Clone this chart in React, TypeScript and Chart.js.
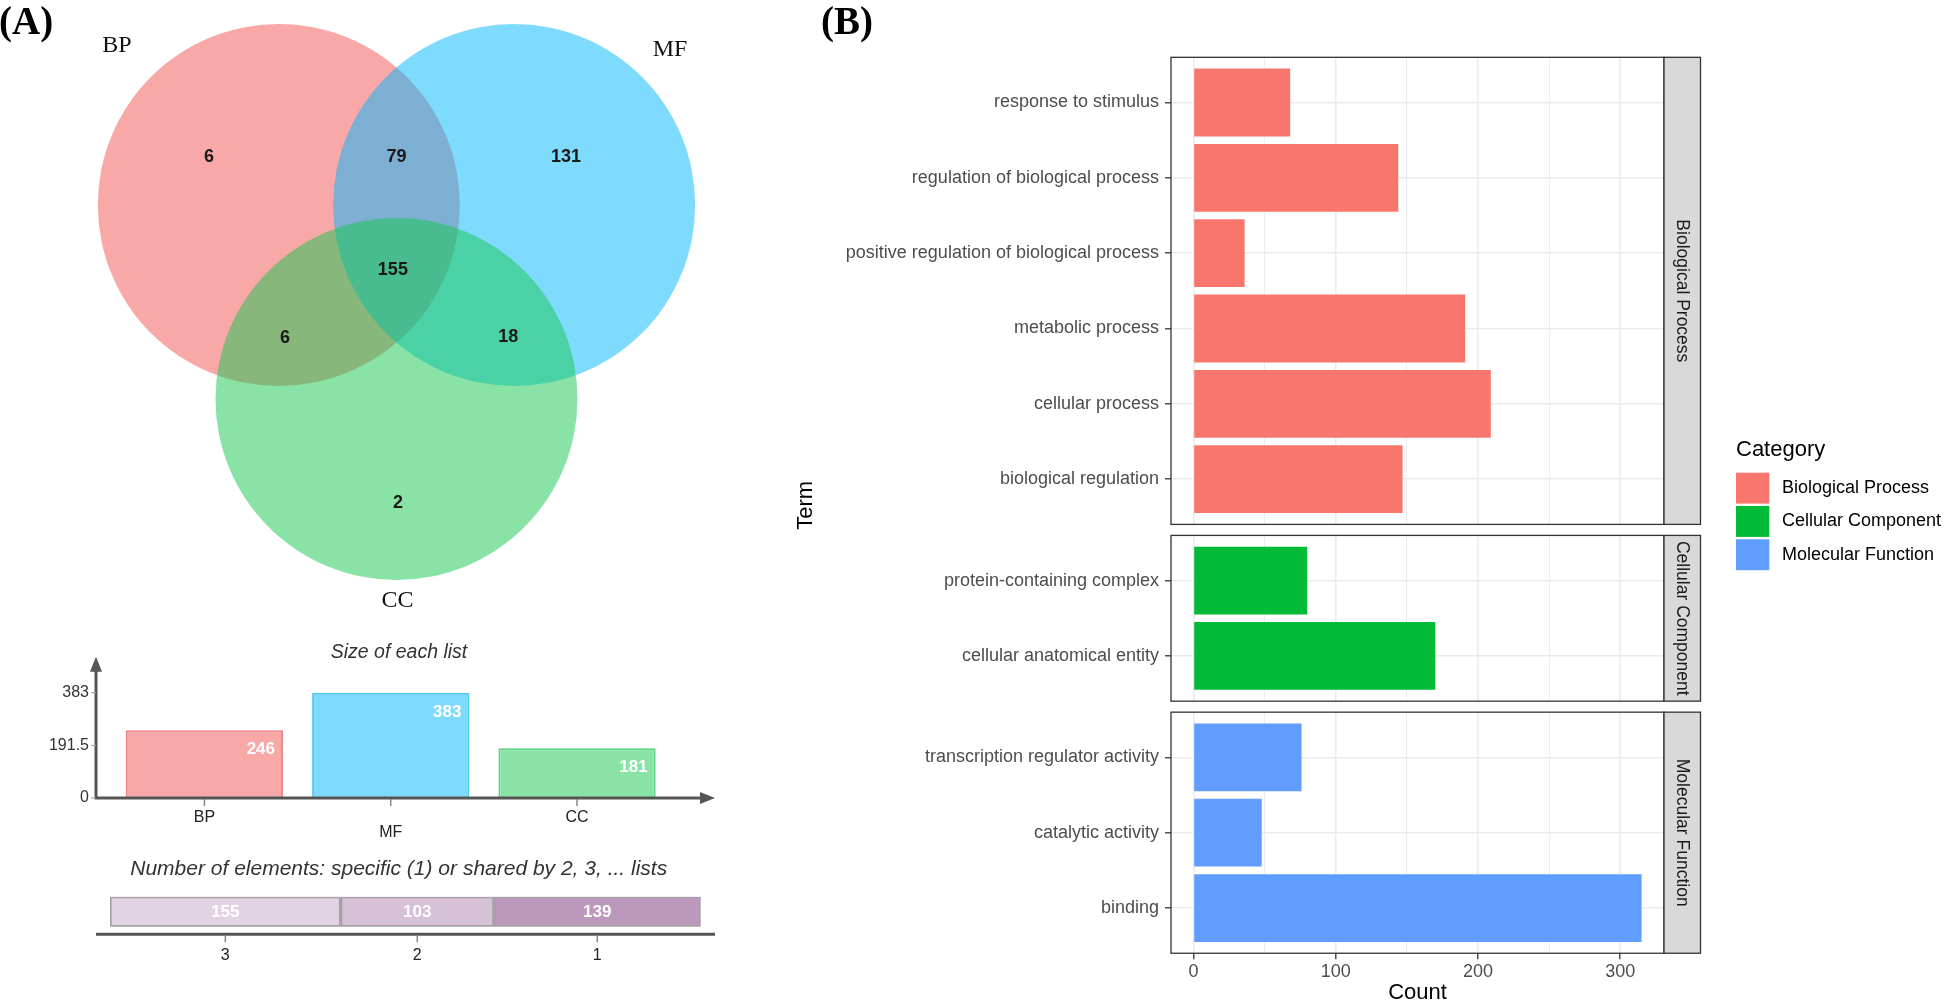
import React, { useEffect, useRef } from 'react';
import { Chart, registerables } from 'chart.js';

Chart.register(...registerables);

const PAGE_W = 1944;
const PAGE_H = 1004;
const SANS = '"Liberation Sans", Arial, Helvetica, sans-serif';
const SERIF = '"Liberation Serif", "Times New Roman", Times, serif';
Chart.defaults.font.family = SANS;

// ---------------- Panel A: Venn diagram ----------------
const vennSets = ['BP', 'MF', 'CC'];
const vennCenterX = [-0.65, 0.65, 0];
const vennCenterY = [0.357, 0.357, -0.714];
const vennRadius = [1, 1, 1];
const vennColors = ['rgba(243,81,81,0.5)', 'rgba(0,183,251,0.5)', 'rgba(21,199,77,0.5)'];
const vennSetLabelX = [-1.544, 1.511, 0.005];
const vennSetLabelY = [1.236, 1.217, -1.83];
const regionCounts = [6, 79, 131, 155, 6, 18, 2];
const regionLabelX = [-1.036, 0, 0.936, -0.02, -0.616, 0.618, 0.008];
const regionLabelY = [0.623, 0.623, 0.623, 0, -0.375, -0.373, -1.289];

// ---------------- Panel A: size of each list ----------------
const listNames = ['BP', 'MF', 'CC'];
const listSizes = [246, 383, 181];
const listTicks = [0, 191.5, 383];
const listFill = ['#F9A8A8', '#7FDBFD', '#8AE3A6'];
const listBorder = ['#F08686', '#4FC8F0', '#5AD583'];

// ---------------- Panel A: shared elements ----------------
const sharedBy = ['3', '2', '1'];
const sharedCounts = [155, 103, 139];
const sharedFill = ['#E2D3E2', '#D6C1D6', '#BC99BC'];

// ---------------- Panel B: GO terms ----------------
const bpTerms = [
  'response to stimulus',
  'regulation of biological process',
  'positive regulation of biological process',
  'metabolic process',
  'cellular process',
  'biological regulation',
];
const bpCounts = [68, 144, 36, 191, 209, 147];
const ccTerms = ['protein-containing complex', 'cellular anatomical entity'];
const ccCounts = [80, 170];
const mfTerms = ['transcription regulator activity', 'catalytic activity', 'binding'];
const mfCounts = [76, 48, 315];
const categoryNames = ['Biological Process', 'Cellular Component', 'Molecular Function'];
const categoryColors = ['#F8766D', '#00BA38', '#619CFF'];
const countTicks = [0, 100, 200, 300];

// ---------------- layout constants ----------------
const VENN_BOX = { w: 740, h: 640, unit: 181, ox: 396.5, oy: 269.7 };
const AXIS_LEFT = 96;
const AXIS_RIGHT = 715;
const PANEL_LEFT = 1171;
const PANEL_RIGHT = 1664;
const STRIP_W = 36.5;
const Y_AXIS_W = 420;
const X_AXIS_H = 45;
const FACET_UNIT = 75.34;
const FACET_GAP = 11;
const FACET_TOP = 57.3;

const noInteract = {
  animation: false as const,
  responsive: false,
  events: [] as any[],
};

// ---------- Venn ----------
const vennTextPlugin = {
  id: 'vennText',
  afterDraw(chart: any) {
    const { ctx } = chart;
    const x = chart.scales.x;
    const y = chart.scales.y;
    ctx.save();
    ctx.textAlign = 'center';
    ctx.textBaseline = 'middle';
    ctx.fillStyle = '#1a1a1a';
    ctx.font = `bold 18px ${SANS}`;
    regionCounts.forEach((c, i) => {
      ctx.fillText(String(c), x.getPixelForValue(regionLabelX[i]), y.getPixelForValue(regionLabelY[i]));
    });
    ctx.fillStyle = '#111';
    ctx.font = `24px ${SERIF}`;
    vennSets.forEach((s, i) => {
      ctx.fillText(s, x.getPixelForValue(vennSetLabelX[i]), y.getPixelForValue(vennSetLabelY[i]));
    });
    ctx.textAlign = 'left';
    ctx.textBaseline = 'alphabetic';
    ctx.fillStyle = '#000';
    ctx.font = `bold 39px ${SERIF}`;
    ctx.fillText('(A)', -1, 34);
    ctx.restore();
  },
};

function vennConfig(): any {
  const { w, h, unit, ox, oy } = VENN_BOX;
  return {
    type: 'scatter',
    data: {
      datasets: [
        {
          data: vennCenterX.map((cx, i) => ({ x: cx, y: vennCenterY[i] })),
          pointBackgroundColor: vennColors,
          pointBorderWidth: 0,
          pointBorderColor: 'rgba(0,0,0,0)',
          pointRadius: (ctx: any) => {
            const s = ctx.chart.scales.x;
            const i = ctx.dataIndex ?? 0;
            return Math.abs(s.getPixelForValue(vennRadius[i]) - s.getPixelForValue(0));
          },
          pointHoverRadius: 0,
          showLine: false,
          clip: false,
        },
      ],
    },
    options: {
      ...noInteract,
      layout: { padding: { left: 0, top: 0, right: PAGE_W - w, bottom: PAGE_H - h } },
      scales: {
        x: { type: 'linear', display: false, min: -ox / unit, max: (w - ox) / unit },
        y: { type: 'linear', display: false, min: -(h - oy) / unit, max: oy / unit },
      },
      plugins: { legend: { display: false }, tooltip: { enabled: false } },
    },
    plugins: [vennTextPlugin],
  };
}

// ---------- Size of each list ----------
const sizeAxesPlugin = {
  id: 'sizeAxes',
  afterDraw(chart: any) {
    const { ctx, chartArea: a } = chart;
    const x = chart.scales.x;
    const y = chart.scales.y;
    const y0 = y.getPixelForValue(0);
    ctx.save();
    // value labels inside bars
    const meta = chart.getDatasetMeta(0);
    ctx.fillStyle = '#ffffff';
    ctx.font = `bold 17px ${SANS}`;
    ctx.textAlign = 'right';
    ctx.textBaseline = 'alphabetic';
    meta.data.forEach((el: any, i: number) => {
      ctx.fillText(String(listSizes[i]), el.x + el.width / 2 - 8, el.y + 24);
    });
    // axes
    ctx.strokeStyle = '#555';
    ctx.fillStyle = '#555';
    ctx.lineWidth = 3;
    ctx.beginPath();
    ctx.moveTo(AXIS_LEFT, y0 + 1.5);
    ctx.lineTo(AXIS_LEFT, a.top + 12);
    ctx.moveTo(AXIS_LEFT - 1.5, y0);
    ctx.lineTo(AXIS_RIGHT - 12, y0);
    ctx.stroke();
    ctx.beginPath();
    ctx.moveTo(AXIS_LEFT, a.top);
    ctx.lineTo(AXIS_LEFT - 6, a.top + 15);
    ctx.lineTo(AXIS_LEFT + 6, a.top + 15);
    ctx.closePath();
    ctx.fill();
    ctx.beginPath();
    ctx.moveTo(AXIS_RIGHT, y0);
    ctx.lineTo(AXIS_RIGHT - 15, y0 - 6);
    ctx.lineTo(AXIS_RIGHT - 15, y0 + 6);
    ctx.closePath();
    ctx.fill();
    // y ticks
    ctx.strokeStyle = '#999';
    ctx.lineWidth = 1;
    ctx.fillStyle = '#333';
    ctx.font = `16px ${SANS}`;
    ctx.textAlign = 'right';
    ctx.textBaseline = 'middle';
    listTicks.forEach((v) => {
      const py = y.getPixelForValue(v);
      ctx.beginPath();
      ctx.moveTo(AXIS_LEFT - 5, py);
      ctx.lineTo(AXIS_LEFT, py);
      ctx.stroke();
      ctx.fillText(String(v), AXIS_LEFT - 7, py);
    });
    // x ticks + staggered labels
    ctx.textAlign = 'center';
    ctx.textBaseline = 'alphabetic';
    ctx.fillStyle = '#222';
    ctx.lineWidth = 1.5;
    ctx.strokeStyle = '#888';
    listNames.forEach((n, i) => {
      const px = x.getPixelForValue(i);
      ctx.beginPath();
      ctx.moveTo(px, y0 + 1);
      ctx.lineTo(px, y0 + 8);
      ctx.stroke();
      ctx.fillText(n, px, y0 + 24 + (i % 2) * 15);
    });
    // title
    ctx.font = `italic 19.5px ${SANS}`;
    ctx.fillStyle = '#333';
    ctx.fillText('Size of each list', 399, 658);
    ctx.restore();
  },
};

function sizeConfig(): any {
  return {
    type: 'bar',
    data: {
      labels: listNames,
      datasets: [
        {
          data: listSizes,
          backgroundColor: listFill,
          borderColor: listBorder,
          borderWidth: 2,
          categoryPercentage: 1,
          barPercentage: 0.844,
        },
      ],
    },
    options: {
      ...noInteract,
      layout: { padding: { left: 111.25, right: PAGE_W - 670.2, top: 656.7, bottom: PAGE_H - 798 } },
      scales: {
        x: { display: false },
        y: { display: false, min: 0, max: 514 },
      },
      plugins: { legend: { display: false }, tooltip: { enabled: false } },
    },
    plugins: [sizeAxesPlugin],
  };
}

// ---------- Number of shared elements ----------
const sharedPlugin = {
  id: 'sharedDecor',
  afterDraw(chart: any) {
    const { ctx } = chart;
    const axisY = 934.3;
    ctx.save();
    ctx.strokeStyle = '#555';
    ctx.lineWidth = 3;
    ctx.beginPath();
    ctx.moveTo(AXIS_LEFT, axisY);
    ctx.lineTo(AXIS_RIGHT, axisY);
    ctx.stroke();
    sharedCounts.forEach((v, i) => {
      const el: any = chart.getDatasetMeta(i).data[0];
      const cx = (el.x + el.base) / 2;
      ctx.fillStyle = '#ffffff';
      ctx.font = `bold 17px ${SANS}`;
      ctx.textAlign = 'center';
      ctx.textBaseline = 'middle';
      ctx.fillText(String(v), cx, el.y + 1);
      ctx.strokeStyle = '#888';
      ctx.lineWidth = 1.5;
      ctx.beginPath();
      ctx.moveTo(cx, axisY + 1);
      ctx.lineTo(cx, axisY + 8);
      ctx.stroke();
      ctx.fillStyle = '#222';
      ctx.font = `16px ${SANS}`;
      ctx.textBaseline = 'alphabetic';
      ctx.fillText(sharedBy[i], cx, 960);
    });
    ctx.fillStyle = '#333';
    ctx.font = `italic 21px ${SANS}`;
    ctx.textAlign = 'center';
    ctx.textBaseline = 'alphabetic';
    ctx.fillText('Number of elements: specific (1) or shared by 2, 3, ... lists', 398.7, 875);
    ctx.restore();
  },
};

function sharedConfig(): any {
  const total = sharedCounts.reduce((s, v) => s + v, 0);
  return {
    type: 'bar',
    data: {
      labels: [''],
      datasets: sharedCounts.map((v, i) => ({
        label: sharedBy[i],
        data: [v],
        backgroundColor: sharedFill[i],
        borderColor: '#A99FA9',
        borderWidth: 2,
        borderSkipped: false,
        categoryPercentage: 1,
        barPercentage: 1,
      })),
    },
    options: {
      ...noInteract,
      indexAxis: 'y',
      layout: { padding: { left: 110, right: PAGE_W - 700.7, top: 896.7, bottom: PAGE_H - 926.7 } },
      scales: {
        x: { display: false, stacked: true, min: 0, max: total },
        y: { display: false, stacked: true },
      },
      plugins: { legend: { display: false }, tooltip: { enabled: false } },
    },
    plugins: [sharedPlugin],
  };
}

// ---------- Panel B facets ----------
const gridValues = countTicks.flatMap((v, i) => (i ? [(v + countTicks[i - 1]) / 2, v] : [v]));

function drawPanelBExtras(chart: any) {
  const { ctx } = chart;
  ctx.save();
  // panel tag
  ctx.fillStyle = '#000';
  ctx.font = `bold 39px ${SERIF}`;
  ctx.textAlign = 'left';
  ctx.textBaseline = 'alphabetic';
  ctx.fillText('(B)', 821, 34);
  // y title
  ctx.font = `22px ${SANS}`;
  ctx.translate(805.5, 505.3);
  ctx.rotate(-Math.PI / 2);
  ctx.textAlign = 'center';
  ctx.textBaseline = 'middle';
  ctx.fillText('Term', 0, 0);
  ctx.setTransform(1, 0, 0, 1, 0, 0);
  // legend
  ctx.textAlign = 'left';
  ctx.textBaseline = 'middle';
  ctx.font = `22px ${SANS}`;
  ctx.fillStyle = '#000';
  ctx.fillText('Category', 1736, 450);
  ctx.font = `18px ${SANS}`;
  categoryNames.forEach((n, i) => {
    const top = 471.5 + i * 33.3;
    ctx.fillStyle = categoryColors[i];
    ctx.fillRect(1736, top + 1.2, 33.3, 30.9);
    ctx.fillStyle = '#000';
    ctx.fillText(n, 1782, top + 16.7);
  });
  ctx.restore();
}

function drawCountTitle(chart: any) {
  const { ctx, chartArea: a } = chart;
  ctx.save();
  ctx.fillStyle = '#000';
  ctx.font = `22px ${SANS}`;
  ctx.textAlign = 'center';
  ctx.textBaseline = 'middle';
  ctx.fillText('Count', (a.left + a.right) / 2, 993);
  ctx.restore();
}

function facetDecor(strip: string, extra?: (chart: any) => void) {
  return {
    id: 'facetDecor',
    afterDraw(chart: any) {
      const { ctx, chartArea: a } = chart;
      ctx.save();
      ctx.strokeStyle = '#333333';
      ctx.lineWidth = 1.3;
      ctx.strokeRect(a.left, a.top, a.right - a.left, a.bottom - a.top);
      ctx.fillStyle = '#D9D9D9';
      ctx.fillRect(a.right, a.top, STRIP_W, a.bottom - a.top);
      ctx.strokeRect(a.right, a.top, STRIP_W, a.bottom - a.top);
      ctx.translate(a.right + STRIP_W / 2, (a.top + a.bottom) / 2);
      ctx.rotate(Math.PI / 2);
      ctx.fillStyle = '#1A1A1A';
      ctx.font = `17.5px ${SANS}`;
      ctx.textAlign = 'center';
      ctx.textBaseline = 'middle';
      ctx.fillText(strip, 0, 0);
      ctx.restore();
      if (extra) extra(chart);
    },
  };
}

function facetConfig(
  terms: string[],
  counts: number[],
  color: string,
  top: number,
  bottom: number,
  strip: string,
  isBottom: boolean,
  extra?: (chart: any) => void,
): any {
  const maxCount = Math.max(...bpCounts, ...ccCounts, ...mfCounts);
  const expand = maxCount * 0.05;
  return {
    type: 'bar',
    data: {
      datasets: [
        {
          data: counts.map((v, i) => ({ x: v, y: i })),
          backgroundColor: color,
          borderWidth: 0,
          categoryPercentage: 1,
          barPercentage: 0.9,
        },
      ],
    },
    options: {
      ...noInteract,
      indexAxis: 'y',
      layout: {
        padding: {
          left: PANEL_LEFT - Y_AXIS_W,
          right: PAGE_W - PANEL_RIGHT,
          top,
          bottom: PAGE_H - bottom - (isBottom ? X_AXIS_H : 0),
        },
      },
      scales: {
        x: {
          type: 'linear',
          position: 'bottom',
          min: -expand,
          max: maxCount + expand,
          bounds: 'data',
          afterBuildTicks: (s: any) => {
            s.ticks = gridValues.map((v) => ({ value: v }));
          },
          afterFit: (s: any) => {
            s.height = isBottom ? X_AXIS_H : 0;
          },
          ticks: {
            display: isBottom,
            autoSkip: false,
            maxRotation: 0,
            padding: 2,
            color: '#4D4D4D',
            font: { size: 18 },
            callback: (v: number) => (countTicks.includes(v) ? String(v) : ''),
          },
          grid: {
            color: '#EBEBEB',
            lineWidth: (c: any) => (c.tick && countTicks.includes(c.tick.value) ? 1.6 : 0.9),
            drawTicks: isBottom,
            tickLength: 6,
            tickWidth: 1.3,
            tickColor: (c: any) => (c.tick && countTicks.includes(c.tick.value) ? '#333333' : 'rgba(0,0,0,0)'),
          },
          border: { display: false },
        },
        y: {
          type: 'linear',
          min: -0.6,
          max: terms.length - 0.4,
          reverse: true,
          bounds: 'data',
          offset: false,
          afterBuildTicks: (s: any) => {
            s.ticks = terms.map((_, i) => ({ value: i }));
          },
          afterFit: (s: any) => {
            s.width = Y_AXIS_W;
          },
          ticks: {
            autoSkip: false,
            padding: 6,
            color: '#4D4D4D',
            font: { size: 18 },
            callback: (v: number) => terms[v] ?? '',
          },
          grid: {
            offset: false,
            color: '#EBEBEB',
            lineWidth: 1.6,
            tickLength: 6,
            tickWidth: 1.3,
            tickColor: '#333333',
          },
          border: { display: false },
        },
      },
      plugins: { legend: { display: false }, tooltip: { enabled: false } },
    },
    plugins: [facetDecor(strip, extra)],
  };
}

function allConfigs(): any[] {
  const facets = [
    { terms: bpTerms, counts: bpCounts },
    { terms: ccTerms, counts: ccCounts },
    { terms: mfTerms, counts: mfCounts },
  ];
  let y = FACET_TOP;
  const bounds = facets.map((f) => {
    const t = y;
    const b = t + (f.terms.length + 0.2) * FACET_UNIT;
    y = b + FACET_GAP;
    return [t, b];
  });
  return [
    vennConfig(),
    sizeConfig(),
    sharedConfig(),
    facetConfig(bpTerms, bpCounts, categoryColors[0], bounds[0][0], bounds[0][1], categoryNames[0], false, drawPanelBExtras),
    facetConfig(ccTerms, ccCounts, categoryColors[1], bounds[1][0], bounds[1][1], categoryNames[1], false),
    facetConfig(mfTerms, mfCounts, categoryColors[2], bounds[2][0], bounds[2][1], categoryNames[2], true, drawCountTitle),
  ];
}

export default function App() {
  const canvases = useRef<(HTMLCanvasElement | null)[]>([]);
  const N = 6;

  useEffect(() => {
    const configs = allConfigs();
    const charts = configs.map((cfg, i) => new Chart(canvases.current[i] as HTMLCanvasElement, cfg));
    return () => charts.forEach((c) => c.destroy());
  }, []);

  return (
    <div
      style={{
        position: 'absolute',
        left: 0,
        top: 0,
        width: PAGE_W,
        height: PAGE_H,
        background: '#ffffff',
        overflow: 'hidden',
      }}
    >
      {Array.from({ length: N }).map((_, i) => (
        <canvas
          key={i}
          ref={(el) => {
            canvases.current[i] = el;
          }}
          width={PAGE_W}
          height={PAGE_H}
          style={{ position: 'absolute', left: 0, top: 0, width: PAGE_W, height: PAGE_H }}
        />
      ))}
    </div>
  );
}
